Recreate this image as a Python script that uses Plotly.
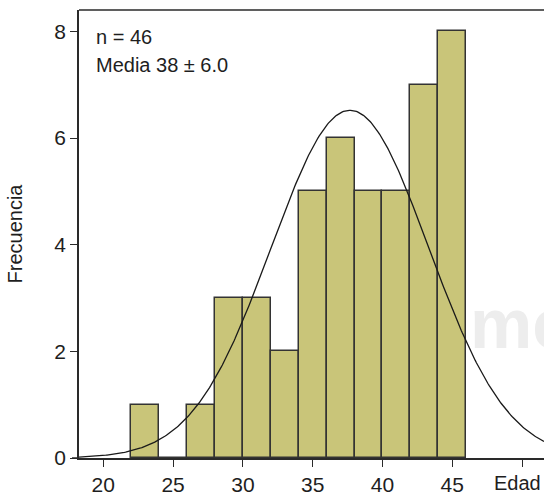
import numpy as np
import plotly.graph_objects as go

# Data
bin_left = [22, 24, 26, 28, 30, 32, 34, 36, 38, 40, 42, 44]
counts = [1, 0, 1, 3, 3, 2, 5, 6, 5, 5, 7, 8]
bin_width = 2
n_total = 46
fit_mean = 37.67
fit_sd = 5.63
tick_vals = [20, 25, 30, 35, 40, 45, 50]
tick_text = ["20", "25", "30", "35", "40", "45", ""]
axis_name = "Edad"
y_ticks = [0, 2, 4, 6, 8]

X_RANGE = [18.26, 51.57]
Y_RANGE = [0, 8.4]

FONT = "Liberation Sans, Arial, sans-serif"
AX = "#2a2a2a"
TXT = "#1e1e1e"

mids = [b + bin_width / 2 for b in bin_left]
xc = np.linspace(X_RANGE[0], X_RANGE[1], 400)
yc = n_total * bin_width / (fit_sd * np.sqrt(2 * np.pi)) * np.exp(-((xc - fit_mean) ** 2) / (2 * fit_sd ** 2))

fig = go.Figure()
# watermark (drawn beneath the curve)
fig.add_trace(go.Scatter(
    x=[46.27], y=[2.4], mode="text", text=["<b>med</b>"],
    textposition="middle right",
    textfont=dict(family="Liberation Sans, Arial", size=70, color="#ededed"),
    hoverinfo="skip", showlegend=False))
fig.add_trace(go.Bar(
    x=mids, y=counts, width=bin_width,
    marker=dict(color="#c9c579", line=dict(color="#333333", width=1.5)),
    showlegend=False))
fig.add_trace(go.Scatter(
    x=xc, y=yc, mode="lines", line=dict(color="#1a1a1a", width=1.3),
    showlegend=False, hoverinfo="skip"))

fig.update_layout(
    width=544, height=496,
    margin=dict(l=79, r=0, t=10, b=36),
    plot_bgcolor="white", paper_bgcolor="white",
    font=dict(family=FONT, color=TXT),
    bargap=0,
    xaxis=dict(range=X_RANGE, tickvals=tick_vals, ticktext=tick_text,
               ticks="outside", ticklen=7, tickwidth=1.3, tickcolor=AX,
               showline=True, linecolor=AX, linewidth=1.5, mirror=False,
               showgrid=False, zeroline=False,
               tickfont=dict(size=21, family=FONT, color=TXT)),
    yaxis=dict(range=Y_RANGE, tickvals=y_ticks,
               ticks="outside", ticklen=7, tickwidth=1.3, tickcolor=AX,
               showline=True, linecolor=AX, linewidth=1.5,
               showgrid=False, zeroline=False,
               tickfont=dict(size=21, family=FONT, color=TXT),
               title=dict(text="Frecuencia", font=dict(size=20, family=FONT, color=TXT),
                          standoff=26)),
)

# top frame line and extension of bottom axis line
fig.add_shape(type="line", xref="paper", yref="paper", x0=0, x1=1, y0=1, y1=1,
              line=dict(color=AX, width=1.5))
fig.add_shape(type="line", xref="paper", yref="paper", x0=-7 / 465, x1=0, y0=0, y1=0,
              line=dict(color=AX, width=1.5))

# axis name placed under the last tick, kept inside the picture
fig.add_annotation(text=axis_name, xref="paper", yref="paper", x=1, y=0,
                   xanchor="right", yanchor="top", xshift=-1, yshift=-12, showarrow=False,
                   font=dict(size=20, family=FONT, color=TXT))

fig.add_annotation(text="n = 46", xref="paper", yref="paper",
                   x=(94 - 79) / 465, y=(460 - 37) / 450, xanchor="left", yanchor="middle",
                   showarrow=False, font=dict(size=20, family=FONT, color=TXT))
fig.add_annotation(text="Media 38 ± 6.0", xref="paper", yref="paper",
                   x=(94 - 79) / 465, y=(460 - 65) / 450, xanchor="left", yanchor="middle",
                   showarrow=False, font=dict(size=20, family=FONT, color=TXT))

fig.write_html("out.html")
